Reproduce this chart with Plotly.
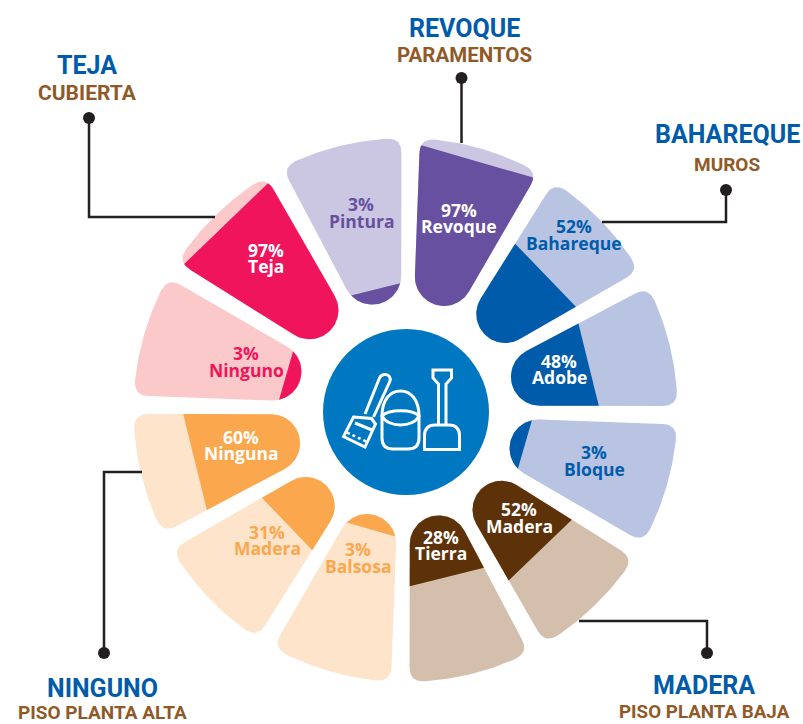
"""Materials of the house: twelve rounded petals, each filled out to its share."""

import numpy as np
import plotly.graph_objects as go

# Data, clockwise from the top
materials = ["Revoque", "Bahareque", "Adobe", "Bloque", "Madera", "Tierra",
             "Balsosa", "Madera", "Ninguna", "Ninguno", "Teja", "Pintura"]
shares = [97, 52, 48, 3, 52, 28, 3, 31, 60, 3, 97, 3]
groups = ["Revoque", "Muros", "Muros", "Muros", "Baja", "Baja",
          "Alta", "Alta", "Alta", "Cubierta", "Cubierta", "Revoque"]

titles = ["REVOQUE", "BAHAREQUE", "MADERA", "NINGUNO", "TEJA"]
subtitles = ["PARAMENTOS", "MUROS", "PISO PLANTA BAJA", "PISO PLANTA ALTA", "CUBIERTA"]

# Colours
DARK = {"Revoque": "#67509f", "Muros": "#005cab", "Baja": "#5e3209",
        "Alta": "#fba74d", "Cubierta": "#f0145c"}
LIGHT = {"Revoque": "#cbc6e1", "Muros": "#b9c4e3", "Baja": "#d4beac",
         "Alta": "#fde4ca", "Cubierta": "#fbc9c9"}
TITLE_BLUE = "#005baa"
TITLE_BROWN = "#8f5a28"
INK = "#231f20"

# Petal geometry in pixels
CX, CY = 405.5, 410
ROT = 1.1
HALF = np.radians(14)
GAP = 9
D_END = 138.5
R_OUT = 272
CORNER = 15
SPLIT_BASE = 120
SPLIT_PER_PCT = 1.43
# the original is hand drawn, a couple of cuts sit a bit further out
SPLIT_NUDGE = {5: 12, 8: 11}

# Where the texts go: (x, y of percent line, y of name line)
label_pos = [(459, 210, 226), (574, 226, 243), (559, 361, 377), (594, 452, 469),
             (519, 509, 526), (441, 537, 553), (358, 549, 566), (267, 532, 548),
             (241, 437, 453), (246, 353, 370), (266, 250, 266), (361, 204, 221)]
label_white = [True, False, True, False, True, True, False, False, True, False, True, False]
title_pos = [(464, 28, 55), (727, 134, 164), (704, 685, 712), (102, 688, 712), (87, 65, 93)]
subtitle_size = [20.5, 19, 18.8, 19, 21]

# leader lines, dot end first
leaders = [[(461.5, 78), (461.5, 143)],
           [(726, 190), (726, 222), (602, 222)],
           [(707, 653), (707, 621), (579, 621)],
           [(104, 653), (104, 472), (142, 472)],
           [(89, 118), (89, 217), (215, 217)]]


def petal_outline():
    """Outline of a petal in (along axis, across axis) coordinates."""
    rho = D_END * np.sin(HALF) - GAP / 2
    # rounded inner end
    a = np.linspace(np.pi / 2 + HALF, 3 * np.pi / 2 - HALF, 40)
    inner = np.column_stack([D_END + rho * np.cos(a), rho * np.sin(a)])
    # lower edge runs from the inner end to the outer corner
    t0 = np.array([D_END - rho * np.sin(HALF), -rho * np.cos(HALF)])
    e = np.array([np.cos(HALF), -np.sin(HALF)])
    b = t0 @ e
    t = -b + np.sqrt(b * b - t0 @ t0 + R_OUT ** 2)
    corner = t0 + t * e
    alpha = np.arctan2(-corner[1], corner[0])
    da = CORNER / R_OUT
    arc_a = np.linspace(-alpha + da, alpha - da, 30)
    arc = np.column_stack([R_OUT * np.cos(arc_a), R_OUT * np.sin(arc_a)])
    s = np.linspace(0, 1, 12)[:, None]
    p0 = corner - CORNER * e
    round_low = (1 - s) ** 2 * p0 + 2 * s * (1 - s) * corner + s ** 2 * arc[0]
    mirror = np.array([1, -1])
    round_high = (round_low * mirror)[::-1]
    return np.vstack([inner, round_low, arc, round_high])


def clip_along(points, limit):
    """Keep the part of the outline closer to the centre than limit."""
    out = []
    for p, q in zip(points, np.roll(points, -1, axis=0)):
        if p[0] <= limit:
            out.append(p)
        if (p[0] <= limit) != (q[0] <= limit):
            out.append(p + (q - p) * (limit - p[0]) / (q[0] - p[0]))
    return np.array(out)


def to_page(points, index):
    th = np.radians(15 + 30 * index + ROT)
    x = CX + points[:, 0] * np.sin(th) + points[:, 1] * np.cos(th)
    y = CY - points[:, 0] * np.cos(th) + points[:, 1] * np.sin(th)
    return np.append(x, x[0]), np.append(y, y[0])


fig = go.Figure()
outline = petal_outline()

for i, (material, share, group) in enumerate(zip(materials, shares, groups)):
    x, y = to_page(outline, i)
    fig.add_trace(go.Scatter(x=x, y=y, mode="lines", fill="toself", fillcolor=LIGHT[group],
                             line=dict(width=0), hoverinfo="skip", showlegend=False))
    cut = SPLIT_BASE + SPLIT_PER_PCT * share + SPLIT_NUDGE.get(i, 0)
    x, y = to_page(clip_along(outline, cut), i)
    fig.add_trace(go.Scatter(x=x, y=y, mode="lines", fill="toself", fillcolor=DARK[group],
                             line=dict(width=0), name=material,
                             hovertemplate=f"{material}: {share}%<extra></extra>",
                             showlegend=False))

# Leader lines
for points in leaders:
    fig.add_trace(go.Scatter(x=[p[0] for p in points], y=[p[1] for p in points], mode="lines",
                             line=dict(color=INK, width=2.5), hoverinfo="skip", showlegend=False))
    fig.add_trace(go.Scatter(x=[points[0][0]], y=[points[0][1]], mode="markers",
                             marker=dict(color=INK, size=12), hoverinfo="skip", showlegend=False))

# Texts
annotations = []
LABEL_FONT = "Open Sans"
for i, (material, share, group) in enumerate(zip(materials, shares, groups)):
    color = "white" if label_white[i] else DARK[group]
    lx, ly1, ly2 = label_pos[i]
    for text, ly in ((f"{share}%", ly1), (material, ly2)):
        annotations.append(dict(x=lx, y=ly, text=f"<b>{text}</b>", showarrow=False,
                                xanchor="center", yanchor="middle",
                                font=dict(family=LABEL_FONT, size=17.5, color=color)))
for title, sub, sub_size, (tx, ty1, ty2) in zip(titles, subtitles, subtitle_size, title_pos):
    annotations.append(dict(x=tx, y=ty1, text=f"<b>{title}</b>", showarrow=False,
                            font=dict(family="Roboto", size=25, color=TITLE_BLUE)))
    annotations.append(dict(x=tx, y=ty2, text=f"<b>{sub}</b>", showarrow=False,
                            font=dict(family="Roboto", size=sub_size, color=TITLE_BROWN)))

# Centre disc and icon
white = dict(color="white", width=3)
shapes = [
    dict(type="circle", x0=323, x1=489, y0=329, y1=495, fillcolor="#0078c1", line=dict(width=0),
         layer="below"),
    # broom
    dict(type="path", line=white,
         path="M 365 414 L 379.5 378 C 382 372 392 374 390 381 L 373.5 417"),
    dict(type="path", line=white,
         path="M 353.5 417 L 371.5 418.5 L 375.5 424 L 365 447 L 343.5 436.5 Z"),
    dict(type="path", line=white, path="M 355 423 L 372 430"),
    dict(type="path", line=dict(color="white", width=2.5, dash="dot"),
         path="M 347 432.5 L 366 441.5"),
    # bucket
    dict(type="path", line=white,
         path="M 382 416 C 382 400 390 391 400.5 391 C 411 391 419 400 419 416"),
    dict(type="path", line=white,
         path="M 382 416 C 388 409 413 409 419 416 C 413 428 388 428 382 416 Z"),
    dict(type="path", line=white,
         path="M 382 416 L 382 438 Q 382 449 393 449 L 408 449 Q 419 449 419 438 L 419 416"),
    # shovel
    dict(type="path", line=white,
         path="M 438.5 425 L 438.5 384 L 433 378 L 433 370 L 451.5 370 L 451.5 378 L 446 384 L 446 425"),
    dict(type="path", line=white,
         path="M 424.5 449.5 L 459.5 449.5 L 459.5 436 Q 459.5 425 449 425 L 435 425 Q 424.5 425 424.5 436 Z"),
]

fig.update_layout(
    width=803, height=724, margin=dict(l=0, r=0, t=0, b=0),
    paper_bgcolor="white", plot_bgcolor="white",
    xaxis=dict(range=[0, 803], visible=False, fixedrange=True),
    yaxis=dict(range=[724, 0], visible=False, fixedrange=True),
    annotations=annotations, shapes=shapes, showlegend=False,
)

fig.write_html("out.html", config={"displayModeBar": False},
               post_script="document.body.style.margin='0';")
